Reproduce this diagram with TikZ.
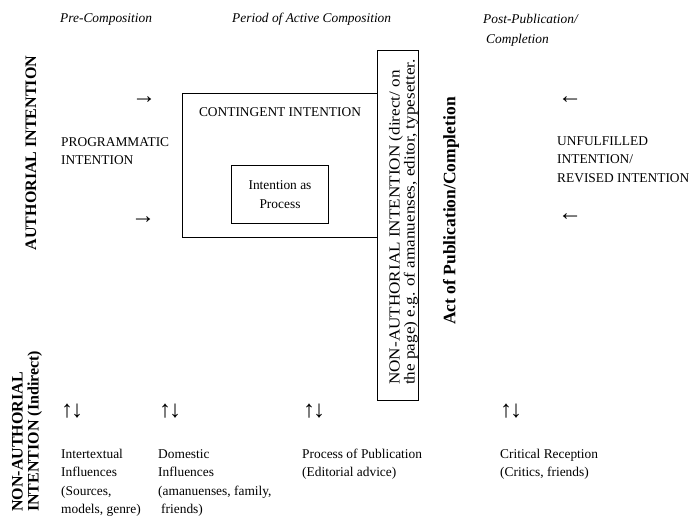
\documentclass[tikz,border=0pt]{standalone}
\usepackage{fontspec}
\setmainfont{Liberation Serif}
\newfontfamily\boxfont[FakeStretch=1.12]{Liberation Serif}
\begin{document}
\begin{tikzpicture}[x=1pt,y=-1pt,
  body/.style={font=\fontsize{13.4}{18.5}\selectfont, inner sep=0pt, align=left},
  hdr/.style={font=\fontsize{13.4}{20}\selectfont\itshape, inner sep=0pt, align=left},
  vlab/.style={font=\fontsize{16}{16}\selectfont\bfseries, inner sep=0pt, rotate=90, align=left},
  frame/.style={draw, line width=1pt, inner sep=0pt},
  glyph/.style={font=\fontsize{24}{24}\selectfont, inner sep=0pt}]
\useasboundingbox (0,0) rectangle (689,520);
% headers
\node[hdr, anchor=base west] (pre) at (60,22.5) {Pre-Composition};
\node[hdr, anchor=base west] (period) at (232,22.5) {Period of Active Composition};
\node[hdr, anchor=base west] (post) at (483,43.5) {Post-Publication/\\\hspace{3pt}Completion};
% vertical labels
\node[vlab, anchor=center] (auth) at (31,153) {AUTHORIAL INTENTION};
\node[vlab, anchor=west] (nonauth) at (27,512) {NON-AUTHORIAL\\INTENTION (Indirect)};
\node[vlab, font=\fontsize{17.5}{17.5}\selectfont\bfseries, anchor=center] (act) at (451,211) {Act of Publication/Completion};
% programmatic
\node[body, anchor=base west] (prog) at (61,164.5) {PROGRAMMATIC\\INTENTION};
\node[glyph] (ra1) at (144,100) {→};
\node[glyph] (ra2) at (143,220) {→};
% contingent box
\node[frame, minimum width=195pt, minimum height=144pt, anchor=north west] (cont) at (182,93) {};
\node[body, anchor=base] (contlab) at (280,116.5) {CONTINGENT INTENTION};
\node[frame, minimum width=97pt, minimum height=58pt, anchor=north west] (proc) at (231,165) {};
\node[body, align=center] (proclab) at (proc.center) {Intention as\\Process};
% tall box
\node[frame, minimum width=41pt, minimum height=350pt, anchor=north west] (tall) at (377,50) {};
\node[font=\fontsize{15.3}{14}\selectfont\boxfont, inner sep=0pt, rotate=90, align=left, anchor=west] (talllab) at (403.5,385) {NON-AUTHORIAL INTENTION (direct/ on\\the page) e.g. of amanuenses, editor, typesetter.};
% right side
\node[glyph] (la1) at (570,100) {←};
\node[glyph] (la2) at (570,217) {←};
\node[body, anchor=base west] (unful) at (557,182) {UNFULFILLED\\INTENTION/\\REVISED INTENTION};
% bottom row
\node[glyph] (ud1) at (72,411) {↑\kern-2pt↓};
\node[glyph] (ud2) at (170,411) {↑\kern-2pt↓};
\node[glyph] (ud3) at (314,411) {↑\kern-2pt↓};
\node[glyph] (ud4) at (511,411) {↑\kern-2pt↓};
\node[body, anchor=base west] (inter) at (61,513.5) {Intertextual\\Influences\\(Sources,\\models, genre)};
\node[body, anchor=base west] (dom) at (158,513.5) {Domestic\\Influences\\(amanuenses, family,\\\hspace{3pt}friends)};
\node[body, anchor=base west] (pub) at (302,476.5) {Process of Publication\\(Editorial advice)};
\node[body, anchor=base west] (crit) at (500,476.5) {Critical Reception\\(Critics, friends)};
\end{tikzpicture}
\end{document}
